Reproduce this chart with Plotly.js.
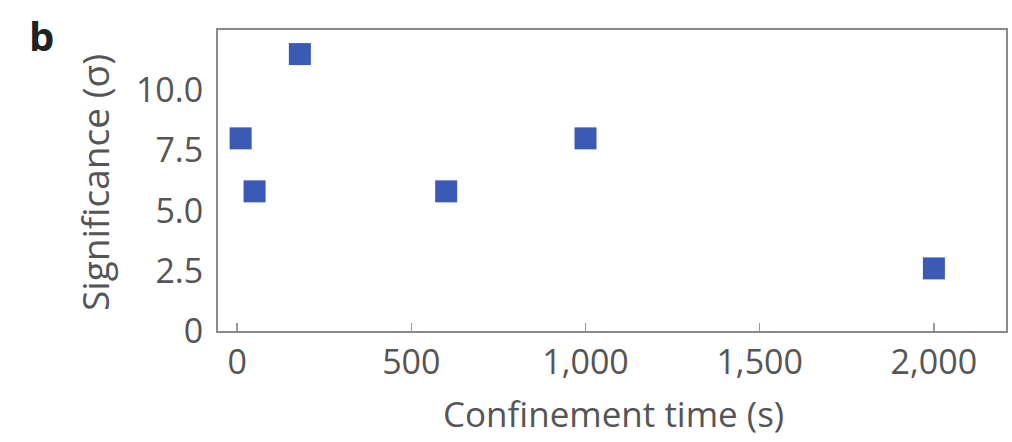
<!DOCTYPE html>
<html>
<head>
<meta charset="utf-8">
<script src="https://cdn.plot.ly/plotly-3.0.1.min.js"></script>
<style>
  html, body { margin: 0; padding: 0; background: #fff; }
  #chart { width: 1012px; height: 442px; }
</style>
</head>
<body>
<div id="chart"></div>
<script>
// Confinement time (s) and detection significance (sigma)
const confinementTime = [10, 50, 180, 600, 1000, 2000];
const significance = [8.0, 5.8, 11.5, 5.8, 8.0, 2.6];

const xTickVals = [0, 500, 1000, 1500, 2000];
const xTickText = ['0', '500', '1,000', '1,500', '2,000'];
const yTickVals = [0, 2.5, 5, 7.5, 10];
const yTickText = ['0', '2.5', '5.0', '7.5', '10.0'];

const xTitle = 'Confinement time (s)';
const yTitle = 'Significance (σ)';
const panelLabel = 'b';

const textColor = '#555555';
const family = 'Open Sans, Lato, sans-serif';
const tickFont = { family: family, size: 34, color: textColor };

const trace = {
  x: confinementTime,
  y: significance,
  type: 'scatter',
  mode: 'markers',
  marker: { symbol: 'square', size: 22, color: '#3a5ab6' },
  hoverinfo: 'x+y'
};

const layout = {
  width: 1012,
  height: 442,
  margin: { l: 218, r: 6, t: 30, b: 111 },
  paper_bgcolor: '#ffffff',
  plot_bgcolor: '#ffffff',
  font: tickFont,
  showlegend: false,
  xaxis: {
    range: [-55, 2207],
    tickvals: xTickVals,
    ticktext: xTickText,
    ticks: 'inside',
    ticklen: 8,
    tickwidth: 1.5,
    tickcolor: '#999999',
    showgrid: false,
    zeroline: false,
    showline: true,
    linecolor: '#8a8a8a',
    linewidth: 2,
    mirror: true,
    tickfont: tickFont
  },
  yaxis: {
    range: [0, 12.5],
    tickvals: yTickVals,
    ticktext: yTickText,
    ticks: '',
    showgrid: false,
    zeroline: false,
    showline: true,
    linecolor: '#8a8a8a',
    linewidth: 2,
    mirror: true,
    tickfont: tickFont,
    ticklabelstandoff: 6
  },
  annotations: [
    {
      text: xTitle,
      xref: 'paper', yref: 'paper',
      x: 0.5025, y: -0.2757,
      xanchor: 'center', yanchor: 'middle',
      showarrow: false,
      font: { family: family, size: 35, color: textColor }
    },
    {
      text: yTitle,
      xref: 'paper', yref: 'paper',
      x: -0.156, y: 0.492,
      xanchor: 'center', yanchor: 'middle',
      textangle: -90,
      showarrow: false,
      font: { family: family, size: 37, color: textColor }
    },
    {
      text: '<b>' + panelLabel + '</b>',
      xref: 'paper', yref: 'paper',
      x: -0.2234, y: 0.983,
      xanchor: 'center', yanchor: 'middle',
      showarrow: false,
      font: { family: family, size: 40, color: '#222222' }
    }
  ]
};

Plotly.newPlot('chart', [trace], layout, { displayModeBar: false, staticPlot: true });
</script>
</body>
</html>
